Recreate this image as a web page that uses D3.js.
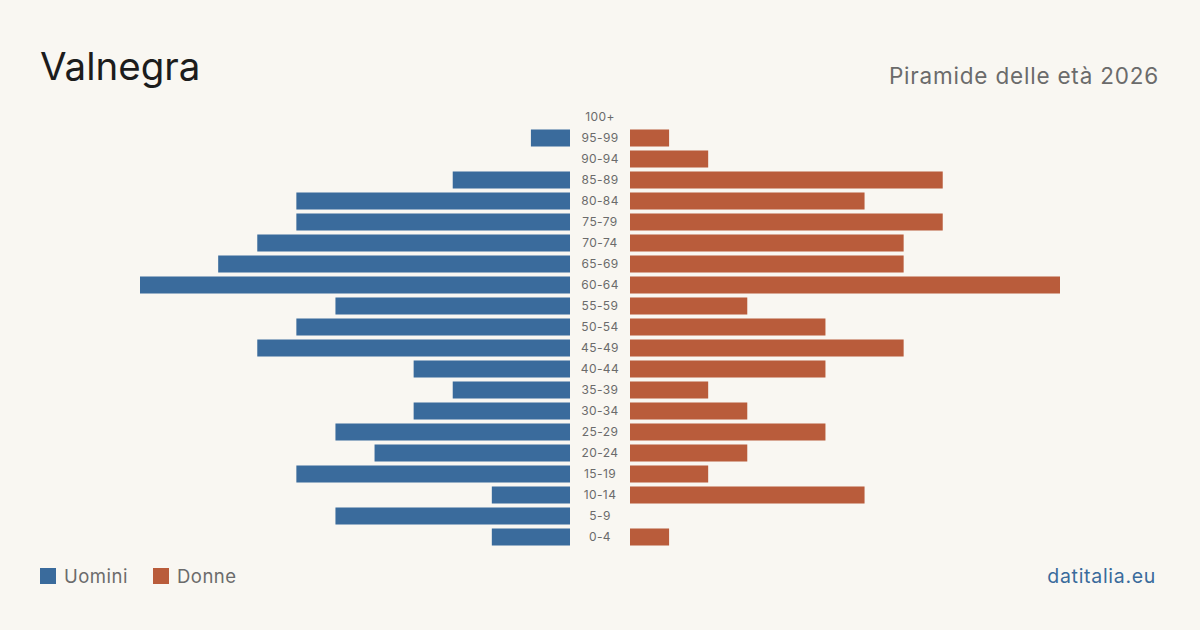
<!DOCTYPE html>
<html lang="it">
<head>
<meta charset="utf-8">
<script src="https://cdn.jsdelivr.net/npm/d3@7"></script>
<style>
  html, body { margin: 0; padding: 0; background: #f9f7f2; }
  svg { display: block; font-family: Inter, "Noto Sans", sans-serif; }
</style>
</head>
<body>
<div id="chart"></div>
<script>
// age classes, top to bottom
const ageGroups = ["100+", "95-99", "90-94", "85-89", "80-84", "75-79", "70-74", "65-69", "60-64",
  "55-59", "50-54", "45-49", "40-44", "35-39", "30-34", "25-29", "20-24", "15-19", "10-14", "5-9", "0-4"];
const men   = [0, 1, 0, 3, 7, 7, 8, 9, 11, 6, 7, 8, 4, 3, 4, 6, 5, 7, 2, 6, 2];
const women = [0, 1, 2, 8, 6, 8, 7, 7, 11, 3, 5, 7, 5, 2, 3, 5, 3, 2, 6, 0, 1];

const W = 1200, H = 630;
const blue = "#3a6b9c", red = "#b95c3b";

const svg = d3.select("#chart").append("svg")
  .attr("width", W).attr("height", H);

svg.append("rect").attr("width", W).attr("height", H).attr("fill", "#f9f7f2");

// title + subtitle
svg.append("text").attr("x", 40).attr("y", 80)
  .attr("font-size", 38.5).attr("fill", "#1c1c1c").text("Valnegra");
svg.append("text").attr("x", 1159).attr("y", 84).attr("text-anchor", "end")
  .attr("font-size", 22.5).attr("letter-spacing", 0.8).attr("fill", "#6b6b6b").text("Piramide delle età 2026");

const maxV = d3.max(men.concat(women));

const y = d3.scaleBand().domain(ageGroups).range([106.5, 547.5]).paddingInner(0.19).paddingOuter(0.095);
const xL = d3.scaleLinear().domain([0, maxV]).range([570, 140]);
const xR = d3.scaleLinear().domain([0, maxV]).range([630, 1060]);

svg.append("g").selectAll("rect")
  .data(ageGroups)
  .join("rect")
  .attr("x", (d, i) => xL(men[i]))
  .attr("y", d => y(d))
  .attr("width", (d, i) => xL(0) - xL(men[i]))
  .attr("height", y.bandwidth())
  .attr("fill", blue);

svg.append("g").selectAll("rect")
  .data(ageGroups)
  .join("rect")
  .attr("x", xR(0))
  .attr("y", d => y(d))
  .attr("width", (d, i) => xR(women[i]) - xR(0))
  .attr("height", y.bandwidth())
  .attr("fill", red);

// age labels in the middle
svg.append("g").selectAll("text")
  .data(ageGroups)
  .join("text")
  .attr("x", 600)
  .attr("y", d => y(d) + y.bandwidth() / 2)
  .attr("dy", "0.35em")
  .attr("text-anchor", "middle")
  .attr("font-size", 12)
  .attr("letter-spacing", 0.4)
  .attr("fill", "#6b6b6b")
  .text(d => d);

// legend
const legend = [{label: "Uomini", color: blue, x: 40}, {label: "Donne", color: red, x: 153}];
const lg = svg.append("g").selectAll("g").data(legend).join("g")
  .attr("transform", d => `translate(${d.x},568)`);
lg.append("rect").attr("width", 16).attr("height", 16).attr("fill", d => d.color);
lg.append("text").attr("x", 24).attr("y", 8).attr("dy", "0.36em")
  .attr("font-size", 18.5).attr("letter-spacing", 0.5).attr("fill", "#6b6b6b").text(d => d.label);

svg.append("text").attr("x", 1156).attr("y", 583).attr("text-anchor", "end")
  .attr("font-size", 19.5).attr("letter-spacing", 0.7).attr("fill", blue).text("datitalia.eu");
</script>
</body>
</html>
